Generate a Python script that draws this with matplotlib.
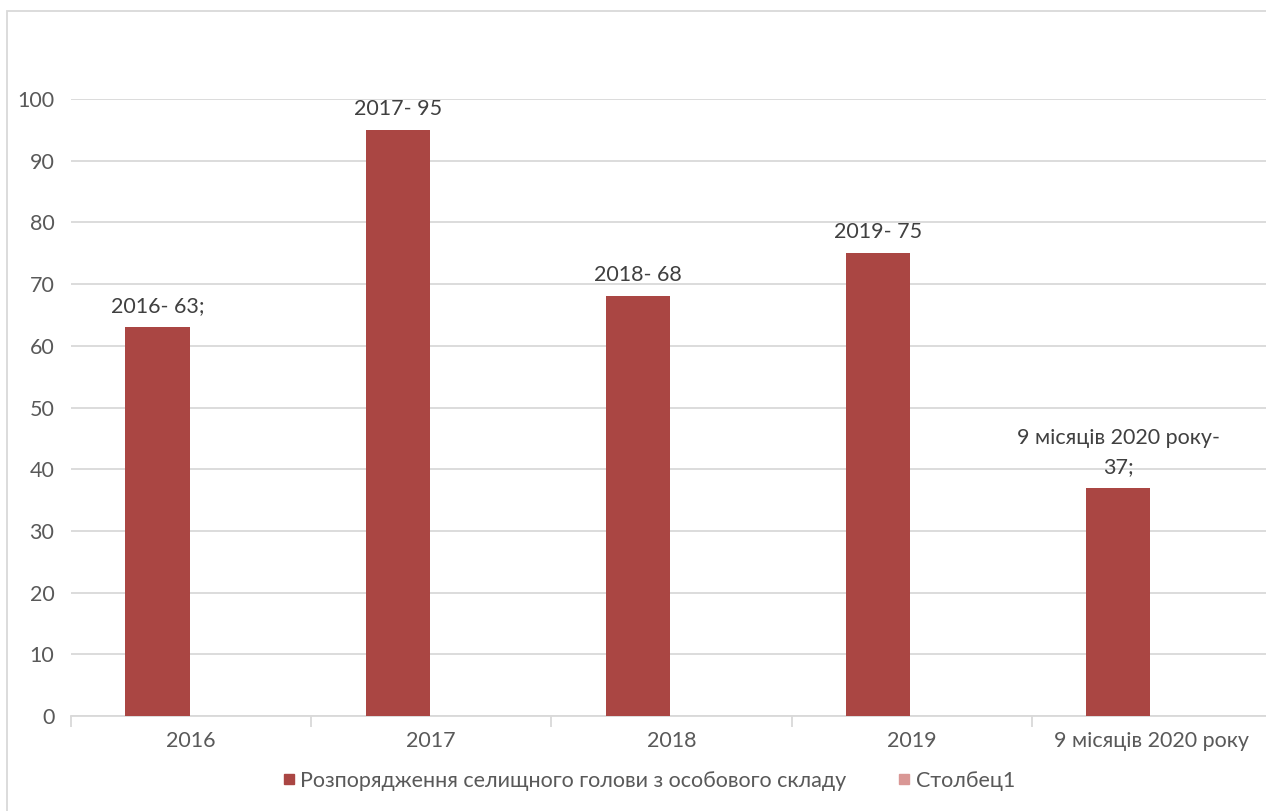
import matplotlib
matplotlib.use("Agg")
import matplotlib.pyplot as plt
from matplotlib.lines import Line2D
from matplotlib.patches import Rectangle

plt.rcParams['font.family'] = ['Lato', 'Open Sans', 'DejaVu Sans']

categories = ["2016", "2017", "2018", "2019", "9 місяців 2020 року"]
values = [63, 95, 68, 75, 37]
labels = ["2016- 63;", "2017- 95", "2018- 68", "2019- 75", "9 місяців 2020 року-\n37;"]
series1_name = "Розпорядження селищного голови з особового складу"
series2_name = "Столбец1"
series2_values = [0, 0, 0, 0, 0]
yticks = [0, 10, 20, 30, 40, 50, 60, 70, 80, 90, 100]

bar_color = "#AA4643"
bar2_color = "#D99795"
text_color = "#595959"
grid_color = "#D9D9D9"
fs = 15.5

W, H = 1266, 811
fig = plt.figure(figsize=(W / 100, H / 100), dpi=100)

# outer frame
fig.patches.append(Rectangle((7 / W, -0.05), 1.2, (H - 11) / H + 0.05,
                             transform=fig.transFigure, fill=False,
                             edgecolor=grid_color, linewidth=1.3))

ax = fig.add_axes([71 / W, 1 - 716 / H, (1272 - 71) / W, (716 - 99) / H])
ax.set_xlim(-0.5, len(categories) - 0.5)
ax.set_ylim(0, 100)

x = list(range(len(categories)))
width = 0.267
off = 0.14
ax.bar([i - off for i in x], values, width=width, color=bar_color,
       zorder=3, label=series1_name)
ax.bar([i + off for i in x], series2_values, width=width, color=bar2_color,
       zorder=3, linewidth=0, label=series2_name)

for i, (v, lab) in enumerate(zip(values, labels)):
    ax.annotate(lab, (i - off, v), xytext=(0, 8), textcoords="offset points",
                ha="center", va="bottom", fontsize=fs, color="#404040",
                linespacing=1.55, clip_on=False, zorder=4)

ax.set_yticks(yticks)
ax.set_yticklabels([str(t) for t in yticks])
ax.yaxis.grid(True, color=grid_color, linewidth=1.3, zorder=0)
ax.tick_params(axis='y', length=0, pad=12, labelsize=fs, labelcolor=text_color)

ax.set_xticks(x)
ax.set_xticklabels(categories)
ax.set_xticks([i - 0.5 for i in range(len(categories) + 1)], minor=True)
ax.tick_params(axis='x', which='major', length=0, pad=11, labelsize=fs,
               labelcolor=text_color)
ax.tick_params(axis='x', which='minor', length=8, color=grid_color, width=1.3)

for s in ['top', 'right', 'left']:
    ax.spines[s].set_visible(False)
ax.spines['bottom'].set_color(grid_color)
ax.spines['bottom'].set_linewidth(1.3)
ax.set_axisbelow(True)

handles = [Line2D([], [], marker='s', linestyle='none', markersize=7,
                  markerfacecolor=bar_color, markeredgecolor=bar_color),
           Line2D([], [], marker='s', linestyle='none', markersize=7,
                  markerfacecolor=bar2_color, markeredgecolor=bar2_color)]
fig.legend(handles, [series1_name, series2_name], loc='center',
           bbox_to_anchor=(649 / W, 1 - 781 / H), ncol=2, frameon=False,
           fontsize=fs, labelcolor=text_color, handlelength=0.5,
           handletextpad=0.3, columnspacing=2.4)

fig.savefig("out.png", dpi=100, facecolor="white")
